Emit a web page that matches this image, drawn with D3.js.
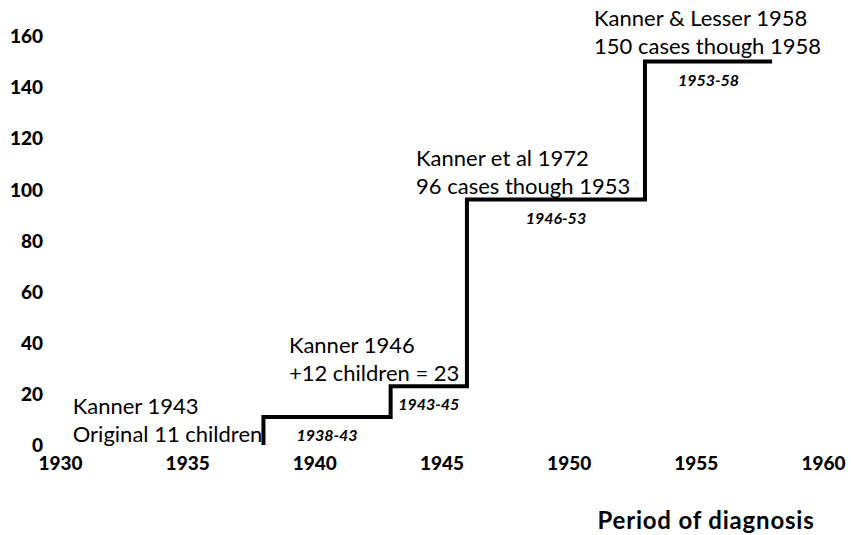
<!DOCTYPE html>
<html>
<head>
<meta charset="utf-8">
<script src="https://cdn.jsdelivr.net/npm/d3@7"></script>
<style>
  body { margin: 0; background: #fff; }
  svg text { font-family: Lato, "Open Sans", sans-serif; fill: #000; }
  .tick text { font-weight: 900; font-size: 19px; }
  .note { font-size: 22px; }
  .period { font-size: 16px; font-weight: 700; font-style: italic; }
</style>
</head>
<body>
<div id="chart"></div>
<script>
let svgWidth = 851;
let svgHeight = 535;

// Data
let years = [1938, 1938, 1943, 1946, 1953, 1958];
let cases = [0, 11, 23, 96, 150, 150];
let xTicks = [1930, 1935, 1940, 1945, 1950, 1955, 1960];
let yTicks = [0, 20, 40, 60, 80, 100, 120, 140, 160];

let noteLines = [
  ["Kanner 1943", "Original 11 children"],
  ["Kanner 1946", "+12 children = 23"],
  ["Kanner et al 1972", "96 cases though 1953"],
  ["Kanner & Lesser 1958", "150 cases though 1958"]
];
// where the first line of each note sits (year, value)
let noteAnchors = [[1930.5, 12], [1939, 36], [1944, 109], [1951, 164]];
let periodLabels = ["1938-43", "1943-45", "1946-53", "1953-58"];
let periodMid = [1940.5, 1944.5, 1949.5, 1955.5];
let periodLevel = [11, 23, 96, 150];

let svg = d3.select("#chart").append("svg").attr("width", svgWidth).attr("height", svgHeight);

let x = d3.scaleLinear().domain([1930, 1960]).range([60, 823]);
let y = d3.scaleLinear().domain([0, 160]).range([445, 36]);

// Axes (no domain line, no tick marks)
let xAxis = svg.append("g")
  .attr("transform", `translate(0, ${y(0)})`)
  .call(d3.axisBottom(x).tickValues(xTicks).tickFormat(d3.format("d")).tickSize(0).tickPadding(12));
xAxis.select(".domain").remove();

let yAxis = svg.append("g")
  .attr("transform", "translate(43, 0)")
  .call(d3.axisLeft(y).tickValues(yTicks).tickSize(0).tickPadding(0));
yAxis.select(".domain").remove();
yAxis.selectAll("text").attr("dy", "0.35em");

// Step line
let points = years.map((d, i) => [d, cases[i]]);
svg.append("path")
  .datum(points)
  .attr("fill", "none")
  .attr("stroke", "#000")
  .attr("stroke-width", 4)
  .attr("d", d3.line().x(d => x(d[0])).y(d => y(d[1])).curve(d3.curveStepAfter));

// Notes above each step
noteLines.forEach((lines, i) => {
  let t = svg.append("text")
    .attr("class", "note")
    .attr("x", x(noteAnchors[i][0]))
    .attr("y", y(noteAnchors[i][1]));
  lines.forEach((s, j) => {
    t.append("tspan")
      .attr("x", x(noteAnchors[i][0]))
      .attr("dy", j == 0 ? 0 : 28)
      .text(s);
  });
});

// Period labels under each step
svg.selectAll(".period")
  .data(periodLabels)
  .enter()
  .append("text")
  .attr("class", "period")
  .attr("text-anchor", "middle")
  .attr("x", (d, i) => x(periodMid[i]))
  .attr("y", (d, i) => y(periodLevel[i]) + 24)
  .text(d => d);

svg.append("text")
  .attr("x", 706)
  .attr("y", 529)
  .attr("text-anchor", "middle")
  .style("font-weight", 700)
  .style("font-size", "24px")
  .style("letter-spacing", "0.8px")
  .text("Period of diagnosis");
</script>
</body>
</html>
